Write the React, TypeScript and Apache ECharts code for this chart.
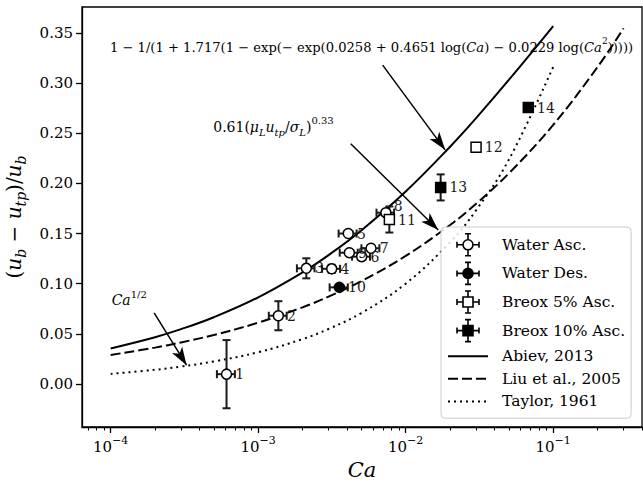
import React, { useEffect, useRef } from 'react';
import * as echarts from 'echarts';

const FONT = 'DejaVu Serif';

// ---- measured points ----
const waterAscIds = ['1', '2', '3', '4', '5', '9', '6', '7', '8'];
const waterAscCa = [6.1e-4, 1.37e-3, 2.12e-3, 3.15e-3, 4.08e-3, 4.15e-3, 5.03e-3, 5.82e-3, 7.34e-3];
const waterAscY = [0.0097, 0.068, 0.1153, 0.1148, 0.15, 0.1309, 0.1269, 0.1353, 0.1708];
const waterAscCaErr = [0.85e-4, 0.19e-3, 0.29e-3, 0.44e-3, 0.57e-3, 0.58e-3, 0.7e-3, 0.81e-3, 1.0e-3];
const waterAscYErr = [0.034, 0.0145, 0.01, 0.004, 0.002, 0.002, 0.002, 0.002, 0.003];

const waterDesIds = ['10'];
const waterDesCa = [3.55e-3];
const waterDesY = [0.0963];
const waterDesCaErr = [0.5e-3];
const waterDesYErr = [0.003];

const breox5Ids = ['11', '12'];
const breox5Ca = [7.75e-3, 0.03];
const breox5Y = [0.164, 0.236];
const breox5CaErr = [0, 0];
const breox5YErr = [0.013, 0.002];

const breox10Ids = ['13', '14'];
const breox10Ca = [0.01726, 0.0678];
const breox10Y = [0.196, 0.2757];
const breox10CaErr = [0, 0];
const breox10YErr = [0.013, 0.002];

// ---- correlation curves ----
const curveCa = [1e-4, 2e-4, 3e-4, 5e-4, 1e-3, 2e-3, 3e-3, 5e-3, 1e-2, 2e-2, 3e-2, 5e-2, 1e-1];
const abievY = [0.0354, 0.0466, 0.0546, 0.0665, 0.0864, 0.1113, 0.1285, 0.1531, 0.1919, 0.2366, 0.2651, 0.3032, 0.357];
const taylorY = [0.01, 0.0141, 0.0173, 0.0224, 0.0316, 0.0447, 0.0548, 0.0707, 0.1, 0.1414, 0.1732, 0.2236, 0.3162];
const liuCa = [1e-4, 2e-4, 3e-4, 5e-4, 1e-3, 2e-3, 3e-3, 5e-3, 1e-2, 2e-2, 3e-2, 5e-2, 1e-1, 2e-1, 3e-1];
const liuY = [0.0289, 0.0362, 0.0414, 0.0488, 0.0611, 0.0764, 0.0871, 0.1025, 0.1277, 0.1585, 0.1797, 0.21, 0.2584, 0.3162, 0.3547];

// ---- axes ----
const xMin = 6.39e-5;
const xMax = 0.4;
const yMin = -0.043;
const yMax = 0.376;
const xMajor = [1e-4, 1e-3, 1e-2, 1e-1];
const xMajorExp = ['−4', '−3', '−2', '−1'];
const xMinor = [7e-5, 8e-5, 9e-5, 2e-4, 3e-4, 4e-4, 5e-4, 6e-4, 7e-4, 8e-4, 9e-4, 2e-3, 3e-3, 4e-3, 5e-3, 6e-3, 7e-3, 8e-3, 9e-3,
  2e-2, 3e-2, 4e-2, 5e-2, 6e-2, 7e-2, 8e-2, 9e-2, 2e-1, 3e-1, 4e-1];
const yTicks = [0, 0.05, 0.1, 0.15, 0.2, 0.25, 0.3, 0.35];

// ---- annotations (data coordinates) ----
const arrowFrom = [[6.98e-3, 0.318], [4.24e-3, 0.2395], [1.97e-4, 0.0709]];
const arrowTo = [[0.0185, 0.2335], [0.01663, 0.1535], [3.27e-4, 0.0187]];
const noteAt = [[9.9e-5, 0.3354], [4.96e-4, 0.2567], [1.016e-4, 0.0836]];
const noteText = [
  '{f|1 − 1/(1 + 1.717(1 − exp(− exp(0.0258 + 0.4651 log(}{fi|Ca}{f|) − 0.0229 log(}{fi|Ca}{fsup|2}{f|)))))}',
  '{r|0.61(}{i|μ}{sub|L}{i|u}{sub|tp}{r|/}{i|σ}{sub|L}{r|)}{sup|0.33}',
  '{i|Ca}{sup|1/2}',
];

const circleIcon =
  'path://M0 11L6 11M16 11L22 11M0 8L0 14M22 8L22 14M11 0L11 6M11 16L11 22M8 0L14 0M8 22L14 22M16 11A5 5 0 1 1 6 11A5 5 0 1 1 16 11Z';
const squareIcon =
  'path://M0 11L6 11M16 11L22 11M0 8L0 14M22 8L22 14M11 0L11 6M11 16L11 22M8 0L14 0M8 22L14 22M6 6L16 6L16 16L6 16Z';

function errSeries(name: string, ca: number[], y: number[], cae: number[], ye: number[]) {
  return {
    type: 'custom',
    name,
    silent: true,
    z: 3,
    data: ca.map((c, i) => [c, y[i], cae[i], ye[i]]),
    encode: { x: 0, y: 1 },
    renderItem: (_p: any, api: any) => {
      const x = api.value(0);
      const v = api.value(1);
      const xe = api.value(2);
      const ve = api.value(3);
      const st = { stroke: '#1a1a1a', lineWidth: 2 };
      const cap = 4;
      const ch: any[] = [];
      if (ve > 0) {
        const a = api.coord([x, v + ve]);
        const b = api.coord([x, v - ve]);
        ch.push({ type: 'line', shape: { x1: a[0], y1: a[1], x2: b[0], y2: b[1] }, style: st });
        ch.push({ type: 'line', shape: { x1: a[0] - cap, y1: a[1], x2: a[0] + cap, y2: a[1] }, style: st });
        ch.push({ type: 'line', shape: { x1: b[0] - cap, y1: b[1], x2: b[0] + cap, y2: b[1] }, style: st });
      }
      if (xe > 0) {
        const a = api.coord([x - xe, v]);
        const b = api.coord([x + xe, v]);
        ch.push({ type: 'line', shape: { x1: a[0], y1: a[1], x2: b[0], y2: b[1] }, style: st });
        ch.push({ type: 'line', shape: { x1: a[0], y1: a[1] - cap, x2: a[0], y2: a[1] + cap }, style: st });
        ch.push({ type: 'line', shape: { x1: b[0], y1: b[1] - cap, x2: b[0], y2: b[1] + cap }, style: st });
      }
      return { type: 'group', children: ch };
    },
  };
}

function pointSeries(name: string, ca: number[], y: number[], ids: string[], symbol: string, filled: boolean) {
  return {
    type: 'scatter',
    name,
    z: 4,
    symbol,
    symbolSize: 10,
    data: ca.map((c, i) =>
      ids[i] === '8'
        ? { value: [c, y[i]], label: { offset: [-1, -7] } }
        : { value: [c, y[i]] }
    ),
    itemStyle: { color: filled ? '#000' : '#fff', borderColor: '#000', borderWidth: 1.5, opacity: 1 },
    label: {
      show: true,
      position: 'right',
      distance: 3,
      formatter: (p: any) => ids[p.dataIndex],
      fontFamily: FONT,
      fontSize: 14,
      color: '#1a1a1a',
    },
  };
}

function lineSeries(name: string, ca: number[], y: number[], type: any) {
  return {
    type: 'line',
    name,
    z: 2,
    data: ca.map((c, i) => [c, y[i]]),
    showSymbol: false,
    symbol: 'none',
    smooth: 0.4,
    silent: true,
    itemStyle: { color: 'rgba(0,0,0,0)', borderWidth: 0 },
    lineStyle: { color: '#000', width: 2, type, cap: 'butt' },
  };
}

const annRich = {
  r: { fontFamily: FONT, fontSize: 14, color: '#000', lineHeight: 22 },
  i: { fontFamily: FONT, fontSize: 14, color: '#000', fontStyle: 'italic', lineHeight: 22 },
  sup: { fontFamily: FONT, fontSize: 10, color: '#000', lineHeight: 11, verticalAlign: 'top' },
  sub: { fontFamily: FONT, fontSize: 10, color: '#000', fontStyle: 'italic', lineHeight: 10, verticalAlign: 'bottom' },
  f: { fontFamily: FONT, fontSize: 13.1, color: '#000', lineHeight: 22 },
  fi: { fontFamily: FONT, fontSize: 13.1, color: '#000', fontStyle: 'italic', lineHeight: 22 },
  fsup: { fontFamily: FONT, fontSize: 9, color: '#000', lineHeight: 11, verticalAlign: 'top' },
};

export default function App() {
  const ref = useRef<HTMLDivElement>(null);
  useEffect(() => {
    const chart = echarts.init(ref.current!, undefined, { renderer: 'svg' });
    const noLegendStyle = { color: 'rgba(0,0,0,0)', borderColor: 'rgba(0,0,0,0)', borderWidth: 0 };
    const option: any = {
      animation: false,
      backgroundColor: '#fff',
      textStyle: { fontFamily: FONT },
      grid: {
        left: 82, right: 1, top: 7, bottom: 57, show: true, borderColor: '#000', borderWidth: 1.3,
        backgroundColor: '#fff', containLabel: false, outerBoundsMode: 'none',
      },
      xAxis: [
        {
          type: 'log',
          logBase: 10,
          min: xMin,
          max: xMax,
          position: 'bottom',
          axisLine: { show: true, onZero: false, lineStyle: { color: '#000', width: 1.3 } },
          axisTick: { show: true, customValues: xMajor, length: 6, lineStyle: { color: '#000', width: 1.3 } },
          axisLabel: {
            show: true,
            customValues: xMajor,
            margin: 8,
            fontFamily: FONT,
            formatter: (v: number) => {
              const k = xMajor.findIndex((m) => Math.abs(m - v) / m < 1e-6);
              return '{b|10}{sup|' + (k >= 0 ? xMajorExp[k] : '') + '}';
            },
            rich: {
              b: { fontFamily: FONT, fontSize: 15, color: '#000', lineHeight: 24 },
              sup: { fontFamily: FONT, fontSize: 11, color: '#000', lineHeight: 12, verticalAlign: 'top' },
            },
          },
          splitLine: { show: false },
          name: 'Ca',
          nameLocation: 'middle',
          nameGap: 28,
          nameTextStyle: { fontFamily: FONT, fontSize: 21, fontStyle: 'italic', color: '#000' },
        },
        {
          type: 'log',
          logBase: 10,
          min: xMin,
          max: xMax,
          position: 'bottom',
          axisLine: { show: false, onZero: false },
          axisTick: { show: true, customValues: xMinor, length: 3.5, lineStyle: { color: '#000', width: 1 } },
          axisLabel: { show: false },
          splitLine: { show: false },
        },
      ],
      yAxis: {
        type: 'value',
        min: yMin,
        max: yMax,
        axisLine: { show: true, onZero: false, lineStyle: { color: '#000', width: 1.3 } },
        axisTick: { show: true, customValues: yTicks, length: 6, lineStyle: { color: '#000', width: 1.3 } },
        axisLabel: {
          show: true,
          customValues: yTicks,
          margin: 9,
          formatter: (v: number) => v.toFixed(2),
          fontFamily: FONT,
          fontSize: 15,
          color: '#000',
        },
        splitLine: { show: false },
        name: '{r|(}{i|u}{sub|b}{r| − }{i|u}{sub|tp}{r|)/}{i|u}{sub|b}',
        nameLocation: 'middle',
        nameRotate: 90,
        nameGap: 54,
        nameTextStyle: {
          rich: {
            r: { fontFamily: FONT, fontSize: 20, color: '#000', lineHeight: 28 },
            i: { fontFamily: FONT, fontSize: 20, color: '#000', fontStyle: 'italic', lineHeight: 28 },
            sub: { fontFamily: FONT, fontSize: 14, color: '#000', fontStyle: 'italic', lineHeight: 14, verticalAlign: 'bottom' },
          },
        },
      },
      legend: {
        orient: 'vertical',
        left: 441,
        top: 227,
        padding: [6, 6, 8, 6],
        itemGap: 5,
        itemWidth: 40,
        itemHeight: 22,
        selectedMode: false,
        backgroundColor: 'rgba(255,255,255,0.85)',
        borderColor: '#cccccc',
        borderWidth: 1,
        borderRadius: 4,
        lineStyle: { width: 2 },
        textStyle: { fontFamily: FONT, fontSize: 15.5, color: '#000', padding: [0, 0, 0, 9] },
        data: [
          { name: 'Water Asc.', icon: circleIcon, itemStyle: { color: '#fff', borderColor: '#000', borderWidth: 1.6 } },
          { name: 'Water Des.', icon: circleIcon, itemStyle: { color: '#000', borderColor: '#000', borderWidth: 1.6 } },
          { name: 'Breox 5% Asc.', icon: squareIcon, itemStyle: { color: '#fff', borderColor: '#000', borderWidth: 1.6 } },
          { name: 'Breox 10% Asc.', icon: squareIcon, itemStyle: { color: '#000', borderColor: '#000', borderWidth: 1.6 } },
          { name: 'Abiev, 2013', itemStyle: noLegendStyle },
          { name: 'Liu et al., 2005', itemStyle: noLegendStyle },
          { name: 'Taylor, 1961', itemStyle: noLegendStyle },
        ],
      },
      series: [
        lineSeries('Abiev, 2013', curveCa, abievY, 'solid'),
        lineSeries('Liu et al., 2005', liuCa, liuY, [10, 4]),
        lineSeries('Taylor, 1961', curveCa, taylorY, [2, 4]),
        errSeries('err-wa', waterAscCa, waterAscY, waterAscCaErr, waterAscYErr),
        errSeries('err-wd', waterDesCa, waterDesY, waterDesCaErr, waterDesYErr),
        errSeries('err-b5', breox5Ca, breox5Y, breox5CaErr, breox5YErr),
        errSeries('err-b10', breox10Ca, breox10Y, breox10CaErr, breox10YErr),
        pointSeries('Water Asc.', waterAscCa, waterAscY, waterAscIds, 'circle', false),
        pointSeries('Water Des.', waterDesCa, waterDesY, waterDesIds, 'circle', true),
        pointSeries('Breox 5% Asc.', breox5Ca, breox5Y, breox5Ids, 'rect', false),
        pointSeries('Breox 10% Asc.', breox10Ca, breox10Y, breox10Ids, 'rect', true),
        {
          type: 'line',
          name: 'annotations',
          data: [],
          silent: true,
          z: 5,
          markLine: {
            silent: true,
            animation: false,
            symbol: ['none', 'arrow'],
            symbolSize: [9, 18],
            lineStyle: { color: '#000', width: 1.5, type: 'solid' },
            label: { show: false },
            data: arrowFrom.map((f, i) => [{ coord: f }, { coord: arrowTo[i] }]),
          },
          markPoint: {
            silent: true,
            animation: false,
            symbol: 'circle',
            symbolSize: 0.1,
            itemStyle: { color: 'rgba(0,0,0,0)' },
            label: { show: true, position: [0, 0], align: 'left', verticalAlign: 'middle', rich: annRich },
            data: noteAt.map((c, i) => ({ coord: c, label: { formatter: noteText[i], rich: annRich } })),
          },
        },
      ],
    };
    chart.setOption(option);
    return () => chart.dispose();
  }, []);
  return (
    <div
      ref={ref}
      style={{ position: 'fixed', left: 0, top: 0, width: 643, height: 484, background: '#fff' }}
    />
  );
}
